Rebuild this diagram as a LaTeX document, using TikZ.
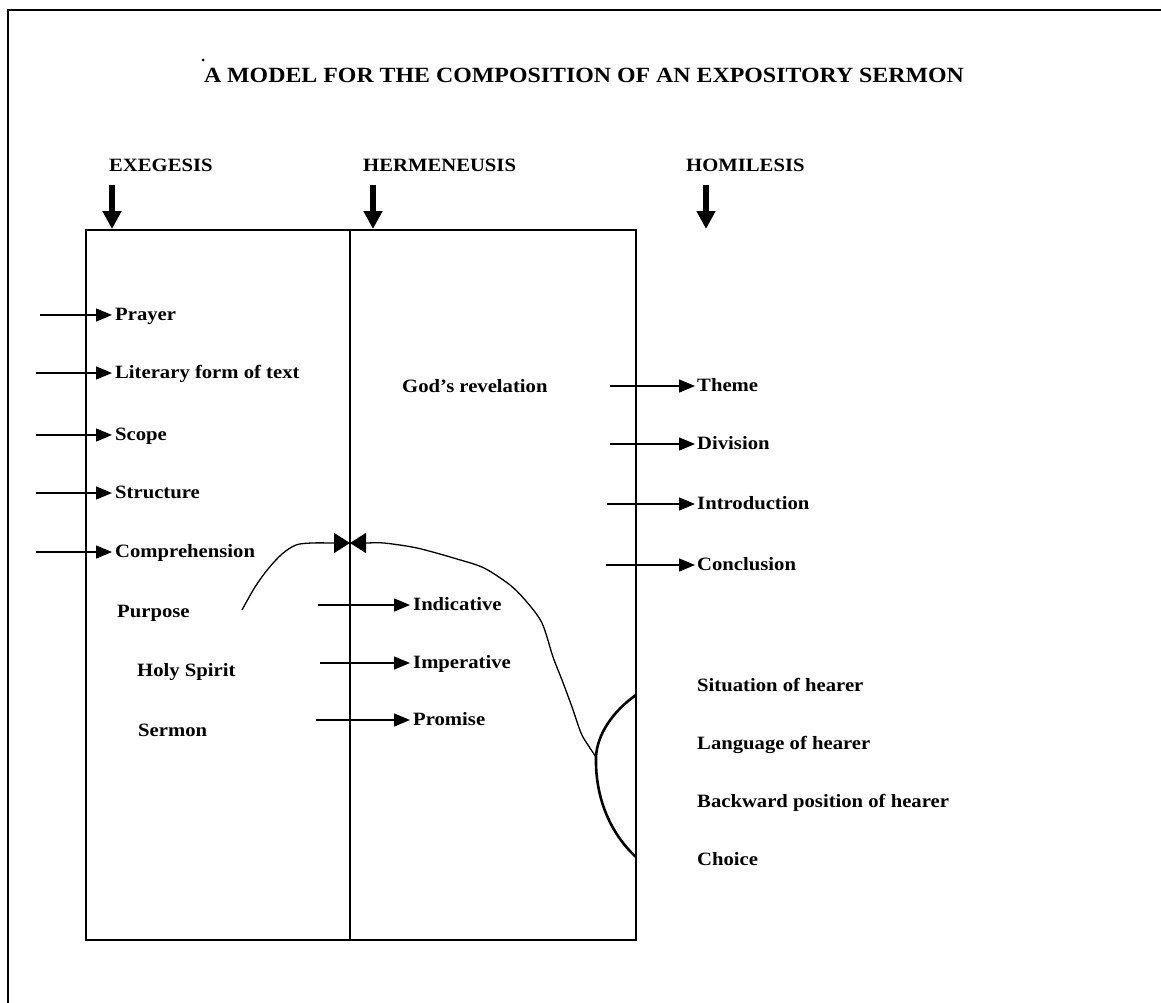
\documentclass[tikz,border=0pt]{standalone}
\usepackage{fontspec}
\setmainfont{Liberation Serif}[FakeStretch=1.1]
\usetikzlibrary{arrows.meta}
\begin{document}
\begin{tikzpicture}[x=1pt,y=-1pt,
  lbl/.style={font=\fontsize{18.8}{20}\selectfont\bfseries, inner sep=0pt, anchor=base west},
  alab/.style={font=\fontsize{18.8}{20}\selectfont\bfseries, inner xsep=3pt, inner ysep=0pt,
               text height=13pt, text depth=3pt, anchor=west},
  thinarr/.style={line width=1.4pt, -{Triangle[length=16pt,width=13pt]}},
  bigarr/.style={line width=6pt, -{Triangle[length=18pt,width=18pt]}},
  bowarr/.style={line width=1.3pt, -{Triangle[length=16pt,width=20pt]}},
  frame/.style={line width=2pt},
  boxline/.style={line width=1.1pt},
]
\useasboundingbox (0,0) rectangle (1161,1003);

% outer frame (top and left only)
\draw[frame] (1161,10) -- (8,10) -- (8,1003);

% title
\node[font=\fontsize{21.7}{24}\selectfont\bfseries, inner sep=0pt, anchor=base] (title) at (584,83)
  {A MODEL FOR THE COMPOSITION OF AN EXPOSITORY SERMON};
\fill (203,60) circle (1.5);

% headers
\node[lbl] (exe) at (109,172) {EXEGESIS};
\node[lbl] (her) at (363,172) {HERMENEUSIS};
\node[lbl] (hom) at (686,172) {HOMILESIS};

% main box
\coordinate (boxTL) at (86,230);
\coordinate (boxBR) at (636,940);
\coordinate (midTop) at (350,230);
\coordinate (midBot) at (350,940);
\draw[boxline] (boxTL) rectangle (boxBR);
\draw[boxline] (midTop) -- (midBot);

% thick down arrows
\coordinate (exeS) at (112,185); \coordinate (exeE) at (112,229);
\coordinate (herS) at (373,185); \coordinate (herE) at (373,229);
\coordinate (homS) at (706,185); \coordinate (homE) at (706,229);
\draw[bigarr] (exeS) -- (exeE);
\draw[bigarr] (herS) -- (herE);
\draw[bigarr] (homS) -- (homE);

% left column arrows
\node[alab] (prayer) at (112,315) {Prayer};
\node[alab] (lit) at (112,373) {Literary form of text};
\node[alab] (scope) at (112,435) {Scope};
\node[alab] (struct) at (112,493) {Structure};
\node[alab] (compr) at (112,552) {Comprehension};
\coordinate (prayerS) at (40,315);
\coordinate (litS) at (36,373);
\coordinate (scopeS) at (36,435);
\coordinate (structS) at (36,493);
\coordinate (comprS) at (36,552);
\draw[thinarr] (prayerS) -- (prayer.west);
\draw[thinarr] (litS) -- (lit.west);
\draw[thinarr] (scopeS) -- (scope.west);
\draw[thinarr] (structS) -- (struct.west);
\draw[thinarr] (comprS) -- (compr.west);

\node[lbl] (purpose) at (117,617) {Purpose};
\node[lbl] (holy) at (137,676) {Holy Spirit};
\node[lbl] (sermon) at (138,736) {Sermon};

% middle column
\node[lbl] (god) at (402,392) {God's revelation};
\node[alab] (indic) at (410,605) {Indicative};
\node[alab] (imper) at (410,663) {Imperative};
\node[alab] (prom) at (410,720) {Promise};
\coordinate (indicS) at (318,605);
\coordinate (imperS) at (320,663);
\coordinate (promS) at (316,720);
\draw[thinarr] (indicS) -- (indic.west);
\draw[thinarr] (imperS) -- (imper.west);
\draw[thinarr] (promS) -- (prom.west);

% right column arrows
\node[alab, inner xsep=2pt] (theme) at (695,386) {Theme};
\node[alab, inner xsep=2pt] (divis) at (695,444) {Division};
\node[alab, inner xsep=2pt] (intro) at (695,504) {Introduction};
\node[alab, inner xsep=2pt] (concl) at (695,565) {Conclusion};
\coordinate (themeS) at (610,386);
\coordinate (divisS) at (610,444);
\coordinate (introS) at (607,504);
\coordinate (conclS) at (606,565);
\draw[thinarr] (themeS) -- (theme.west);
\draw[thinarr] (divisS) -- (divis.west);
\draw[thinarr] (introS) -- (intro.west);
\draw[thinarr] (conclS) -- (concl.west);

% hearer items
\node[lbl] (sit) at (697,691) {Situation of hearer};
\node[lbl] (lang) at (697,749) {Language of hearer};
\node[lbl] (back) at (697,807) {Backward position of hearer};
\node[lbl] (choice) at (697,865) {Choice};

% curve and bow tie
\coordinate (bow) at (350,543);
\coordinate (purpEnd) at (242,610);
\coordinate (arcTop) at (636,695);
\coordinate (arcMid) at (596,757);
\coordinate (arcBot) at (636,857);
\draw[bowarr] plot[smooth, tension=0.55] coordinates
  {(purpEnd) (255,587) (268,569) (282,554) (296,545) (312,543) (334,543) (bow)};
\draw[bowarr] plot[smooth, tension=0.5] coordinates
  {(arcMid) (588,745) (581,733) (572,707) (562,680) (553,657) (542,623) (526,601)
   (510,585) (484,568) (457,559) (417,548) (384,543) (366,543) (bow)};
\draw[line width=2.6pt] (arcTop) .. controls (612,712) and (597,735) .. (arcMid)
  .. controls (595,800) and (612,835) .. (arcBot);
\end{tikzpicture}
\end{document}
